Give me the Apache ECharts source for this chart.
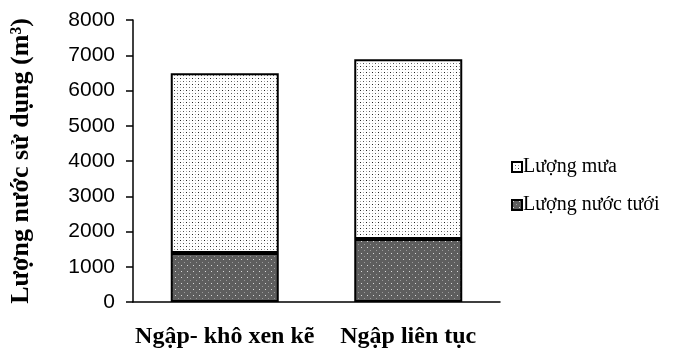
<!DOCTYPE html>
<html>
<head>
<meta charset="utf-8">
<script src="https://cdn.jsdelivr.net/npm/echarts@6/dist/echarts.min.js"></script>
<style>
  html, body { margin: 0; padding: 0; background: #fff; }
  #chart { width: 673px; height: 353px; }
</style>
</head>
<body>
<div id="chart"></div>
<script>
// Water use per irrigation regime (m³)
const categories = ['Ngập- khô xen kẽ', 'Ngập liên tục'];
const irrigation = [1390, 1790];   // Lượng nước tưới
const rainfall = [5100, 5100];     // Lượng mưa
const seriesNames = ['Lượng mưa', 'Lượng nước tưới'];
const yTicks = { min: 0, max: 8000, interval: 1000 };

// Small tiled dot patterns used as bar fills
function makePattern(bg, dots, size) {
  const c = document.createElement('canvas');
  c.width = size; c.height = size;
  const ctx = c.getContext('2d');
  ctx.fillStyle = bg;
  ctx.fillRect(0, 0, size, size);
  dots.forEach(d => {
    ctx.fillStyle = d[2];
    ctx.fillRect(d[0], d[1], 1, 1);
  });
  return c;
}
const rainTile = makePattern('#ffffff', [[0, 0, '#222'], [3, 0, '#aaa'], [0, 3, '#aaa'], [3, 3, '#555']], 6);
const irrTile = makePattern('#5e5e5e', [[1, 1, '#d8d8d8'], [4, 4, '#9a9a9a']], 6);

const chart = echarts.init(document.getElementById('chart'), null, { renderer: 'canvas' });
chart.setOption({
  animation: false,
  backgroundColor: '#ffffff',
  grid: { left: 129, right: 173, top: 20, bottom: 51 },
  legend: {
    orient: 'vertical',
    left: 506,
    top: 152,
    itemWidth: 10,
    itemHeight: 10,
    itemGap: 18,
    icon: 'rect',
    data: seriesNames,
    textStyle: { fontFamily: 'Liberation Serif', fontSize: 20, color: '#000', padding: [0, 0, 0, -4] }
  },
  xAxis: {
    type: 'category',
    data: categories,
    axisLine: { lineStyle: { color: '#000', width: 1.5 } },
    axisTick: { show: false },
    axisLabel: {
      interval: 0,
      margin: 23,
      color: '#000',
      fontFamily: 'Liberation Serif',
      fontWeight: 'bold',
      fontSize: 24
    }
  },
  yAxis: {
    type: 'value',
    min: yTicks.min,
    max: yTicks.max,
    interval: yTicks.interval,
    name: 'Lượng nước sử dụng (m³)',
    nameLocation: 'middle',
    nameGap: 99,
    nameTextStyle: { fontFamily: 'Liberation Serif', fontWeight: 'bold', fontSize: 26, color: '#000' },
    axisLine: { show: true, lineStyle: { color: '#000', width: 1.5 } },
    axisTick: { show: true, length: 7, lineStyle: { color: '#000', width: 1.5 } },
    splitLine: { show: false },
    axisLabel: {
      margin: 18,
      color: '#000',
      fontFamily: 'Liberation Sans',
      fontSize: 21,
      formatter: v => String(v)
    }
  },
  series: [
    {
      name: seriesNames[1],
      type: 'bar',
      stack: 'water',
      barWidth: 108,
      data: irrigation,
      itemStyle: { color: { image: irrTile, repeat: 'repeat' }, borderColor: '#000', borderWidth: 2 }
    },
    {
      name: seriesNames[0],
      type: 'bar',
      stack: 'water',
      barWidth: 108,
      data: rainfall,
      itemStyle: { color: { image: rainTile, repeat: 'repeat' }, borderColor: '#000', borderWidth: 2 }
    }
  ]
});
</script>
</body>
</html>
